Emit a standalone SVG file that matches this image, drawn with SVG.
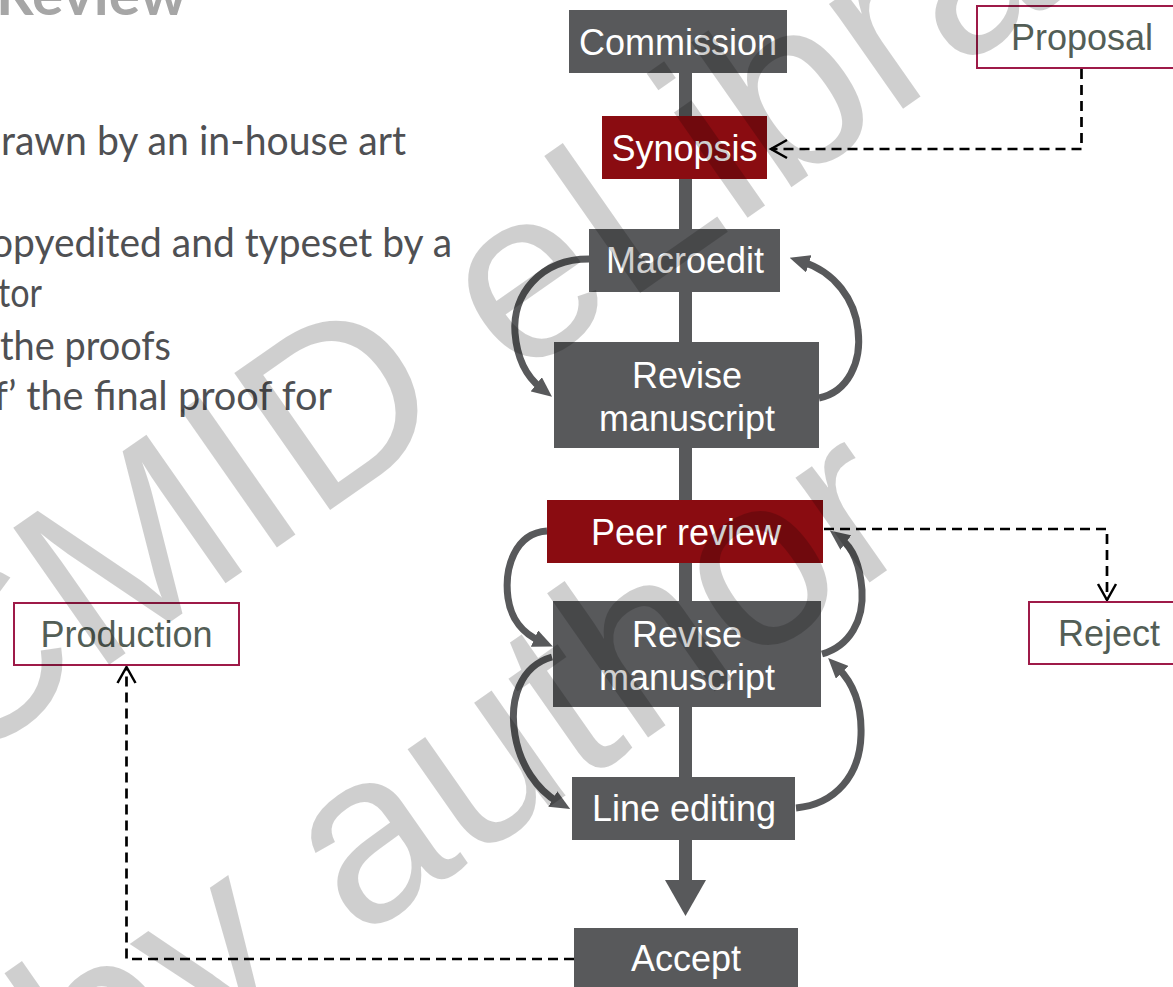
<svg xmlns="http://www.w3.org/2000/svg" width="1173" height="987" viewBox="0 0 1173 987">
<style>
.box{fill:#58595b}
.red{fill:#8a0c11}
.out{fill:#fff;stroke:#9e1a48;stroke-width:2}
.lbl{font-family:"Liberation Sans",Arial,sans-serif;font-size:36px;fill:#fff;text-anchor:middle}
.olbl{font-family:"Liberation Sans",Arial,sans-serif;font-size:36px;fill:#535e56;text-anchor:middle}
.body{font-family:Lato,"Open Sans",sans-serif;font-size:40px;fill:#4f5053}
.loop{fill:none;stroke:#58595b;stroke-width:7}
.dash{fill:none;stroke:#000;stroke-width:2.7;stroke-dasharray:10 6}
.wm{font-family:"Liberation Sans",Arial,sans-serif;font-size:243px;fill:#000;fill-opacity:0.19}
</style>
<defs>
<marker id="solid" viewBox="0 0 20 18" refX="6" refY="9" markerWidth="20" markerHeight="18" markerUnits="userSpaceOnUse" orient="auto">
<path d="M0,0 L20,9 L0,18 Z" fill="#58595b"/>
</marker>
<marker id="open" viewBox="-2 -2 22 22" refX="16" refY="9" markerWidth="22" markerHeight="22" markerUnits="userSpaceOnUse" orient="auto" overflow="visible">
<path d="M0,0 L16,9 L0,18" fill="none" stroke="#000" stroke-width="2.5"/>
</marker>
</defs>
<rect width="1173" height="987" fill="#fff"/>

<g id="bullets">
<text class="body" x="-4" y="15" style="font-weight:bold;font-size:58px;fill:#a6a6a6" textLength="191" lengthAdjust="spacingAndGlyphs">Review</text>
<text class="body" x="1" y="155" textLength="405" lengthAdjust="spacingAndGlyphs">rawn by an in-house art</text>
<text class="body" x="-9" y="257" textLength="461" lengthAdjust="spacingAndGlyphs">opyedited and typeset by a</text>
<text class="body" x="-2" y="307" textLength="44" lengthAdjust="spacingAndGlyphs">tor</text>
<text class="body" x="0" y="360" textLength="171" lengthAdjust="spacingAndGlyphs">the proofs</text>
<text class="body" x="-6" y="410" textLength="338" lengthAdjust="spacingAndGlyphs">f’ the final proof for</text>
</g>

<g id="connectors">
<rect x="679" y="73" width="13" height="808" fill="#58595b"/>
<path d="M665,880 L706,880 L685.5,916 Z" fill="#58595b"/>
<path class="loop" marker-end="url(#solid)" d="M589,259 C540,259 512,295 515,333 C517,358 527,377 541,388"/>
<path class="loop" marker-end="url(#solid)" d="M819,398 C848,392 862,362 858,330 C855,300 835,272 803,262"/>
<path class="loop" marker-end="url(#solid)" d="M547,531 C515,533 504,568 508,598 C511,620 524,634 540,641"/>
<path class="loop" marker-end="url(#solid)" d="M552,657 C520,666 509,700 515,735 C520,765 537,790 558,802"/>
<path class="loop" marker-end="url(#solid)" d="M822,654 C850,646 864,620 862,590 C860,565 853,548 841,539"/>
<path class="loop" marker-end="url(#solid)" d="M796,808 C836,804 860,775 861,735 C862,705 853,683 838,668"/>
<path class="dash" marker-end="url(#open)" d="M1081.5,69 V149 H771"/>
<path class="dash" marker-end="url(#open)" d="M824,529 H1107 V600"/>
<path class="dash" marker-end="url(#open)" d="M574,959 H126.5 V667"/>
</g>

<g id="commission"><rect class="box" x="569" y="10" width="218" height="63"/><text class="lbl" x="678" y="55">Commission</text></g>
<g id="synopsis"><rect class="red" x="602" y="116" width="165" height="63"/><text class="lbl" x="684.5" y="161">Synopsis</text></g>
<g id="macroedit"><rect class="box" x="589" y="229" width="191" height="63"/><text class="lbl" x="685" y="273">Macroedit</text></g>
<g id="revise1"><rect class="box" x="554" y="342" width="265" height="106"/><text class="lbl" x="687" y="388">Revise</text><text class="lbl" x="687" y="431">manuscript</text></g>
<g id="peer-review"><rect class="red" x="547" y="500" width="276" height="63"/><text class="lbl" x="686" y="545">Peer review</text></g>
<g id="revise2"><rect class="box" x="553" y="601" width="268" height="106"/><text class="lbl" x="687" y="647">Revise</text><text class="lbl" x="687" y="690">manuscript</text></g>
<g id="line-editing"><rect class="box" x="572" y="777" width="223" height="63"/><text class="lbl" x="684" y="821">Line editing</text></g>
<g id="accept"><rect class="box" x="574" y="928" width="224" height="63"/><text class="lbl" x="686" y="971">Accept</text></g>
<g id="proposal"><rect class="out" x="977" y="6" width="210" height="62"/><text class="olbl" x="1082" y="50">Proposal</text></g>
<g id="reject"><rect class="out" x="1029" y="602" width="160" height="62"/><text class="olbl" x="1109" y="646">Reject</text></g>
<g id="production"><rect class="out" x="14" y="603" width="225" height="62"/><text class="olbl" x="126.5" y="647">Production</text></g>

<g id="watermark">
<text class="wm" x="-51" y="777" transform="rotate(-35 -51 777)">CMID eLibrary</text>
<text class="wm" x="92" y="1127" transform="rotate(-35 92 1127)">by author</text>
</g>
</svg>
